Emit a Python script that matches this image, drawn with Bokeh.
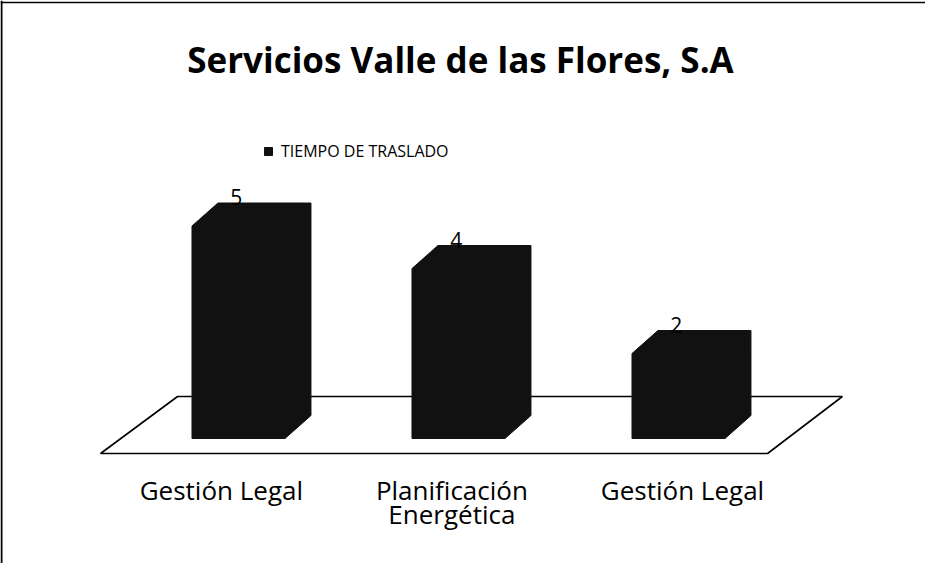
from bokeh.plotting import figure
from bokeh.models import Range1d, Label, Legend, LegendItem, Span, ColumnDataSource
from bokeh.core.properties import value
from bokeh.embed import file_html
from bokeh.resources import INLINE

# ---- data ----
categories = ["Gestión Legal", "Planificación\nEnergética", "Gestión Legal"]
tiempo = [5, 4, 2]
series_name = "TIEMPO DE TRASLADO"
title_text = "Servicios Valle de las Flores, S.A"

FONT = "Open Sans"
BAR_COLOR = "#111111"

n = len(categories)
W, H = 925, 563

p = figure(width=W, height=H, output_backend="svg", toolbar_location=None,
           x_range=Range1d(-238 / 220, (W - 238) / 220),
           y_range=Range1d(-(H - 438) / 42.5, 438 / 42.5),
           min_border=0, min_border_left=0, min_border_right=0,
           min_border_top=0, min_border_bottom=0)
p.xaxis.visible = False
p.yaxis.visible = False
p.grid.visible = False
p.outline_line_color = None
p.background_fill_color = "white"
p.border_fill_color = "white"

# 3D depth offsets (in data units)
HW = 0.2114   # half width of the bar's front face
DX = 0.118    # depth shift in x
DY = 0.541    # depth shift in y

# ---- floor (3D plane) ----
f_front, f_back = -0.353, 0.988
fl_front, fr_front = -0.627, (n - 1) + 0.405
fl_back, fr_back = -0.277, (n - 1) + 0.745
p.patch([fl_front, fr_front, fr_back, fl_back],
        [f_front, f_front, f_back, f_back],
        fill_color="white", line_color="black", line_width=1.6)

# ---- bars as 3D box silhouettes ----
xs, ys = [], []
for i, v in enumerate(tiempo):
    x0, x1 = i - HW, i + HW
    xs.append([x0, x1, x1 + DX, x1 + DX, x0 + DX, x0])
    ys.append([0, 0, DY, v + DY, v + DY, v])
bars = p.patches(xs, ys, fill_color=BAR_COLOR, line_color=BAR_COLOR, line_width=1)

# ---- data labels ----
lab_src = ColumnDataSource(dict(x=[i - 0.01 for i in range(n)],
                                y=[v + DY for v in tiempo],
                                t=[str(v) for v in tiempo]))
p.text(x="x", y="y", text="t", source=lab_src, text_font=value(FONT),
       text_font_size="21px", text_align="center", text_baseline="alphabetic",
       text_color="black", y_offset=-6)

# ---- category labels ----
mid = 0.5 * (n - 1)
cat_src = ColumnDataSource(dict(x=[mid + (i - mid) * 1.048 - 0.03 for i in range(n)],
                                y=[-0.78] * n,
                                t=categories))
p.text(x="x", y="y", text="t", source=cat_src, text_font=value(FONT),
       text_font_size="26px", text_align="center", text_baseline="top",
       text_color="black", text_line_height=0.68)

# ---- title ----
p.add_layout(Label(x=460, y=H - 59, x_units="screen", y_units="screen",
                   text=title_text, text_align="center", text_baseline="alphabetic",
                   text_font=FONT, text_font_size="35px", text_font_style="bold",
                   text_color="black"))

# ---- legend ----
legend = Legend(items=[LegendItem(label=series_name, renderers=[bars])],
                location=(263, H - 142 - 20), orientation="horizontal",
                label_text_font=FONT, label_text_font_size="16px",
                label_text_color="black", glyph_width=10, glyph_height=10,
                label_standoff=8, padding=0, margin=0, spacing=0,
                border_line_color=None, background_fill_alpha=0)
p.add_layout(legend, "center")

# ---- frame border (top and left edges) ----
p.add_layout(Span(location=1, location_units="screen", dimension="height",
                  line_color="black", line_width=2))
p.add_layout(Span(location=H - 2, location_units="screen", dimension="width",
                  line_color="black", line_width=1.5))

open("out.html", "w").write(file_html(p, INLINE))
